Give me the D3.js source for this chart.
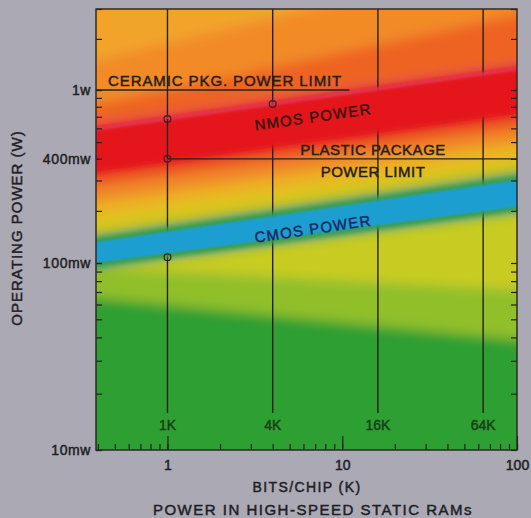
<!DOCTYPE html>
<html>
<head>
<meta charset="utf-8">
<script src="https://cdn.jsdelivr.net/npm/d3@7"></script>
<style>
body { margin: 0; background: #aaa9b4; }
svg { display: block; font-family: "Liberation Sans", Arial, sans-serif; }
svg text { stroke-width: 0.45px; }
</style>
</head>
<body>
<svg id="chart" width="531" height="518"></svg>
<script>
/* global d3 */

// data
const bitsEdge = [0.39, 100];          // left / right edge of the plot (K bits)
const powerEdge = [0.01, 3];           // bottom / top (W)
const xTickLabels = [1, 10, 100];
const yTickVals = [0.01, 0.1, 0.4, 1];
const yTickLabels = ['10mw', '100mw', '400mw', '1w'];
const densities = [1, 4, 16, 64];
const densityLabels = ['1K', '4K', '16K', '64K'];

// colour zones of the background, lower boundary at left and right edge (W)
const zoneLeft = [1.50, 0.819, 0.636, 0.595, 0.336, 0.282, 0.225, 0.182, 0.147, 0.132, 0.1, 0.094, 0.094, 0.065];
const zoneRight = [5.83, 2.77, 1.42, 1.33, 0.727, 0.611, 0.500, 0.404, 0.336, 0.302, 0.211, 0.195, 0.0717, 0.0388];
const zoneColors = ['#f2a42c', '#f28a26', '#ee6424', '#e63a52', '#e4161e', '#ec4a22', '#f28628',
	'#ecb424', '#d8c81e', '#48a23a', '#1e9ecf', '#3aa03a', '#c8cc22', '#90bf2a', '#2f9f30'];

const nmosUpper = [0.595, 1.33];
const nmosLower = [0.336, 0.727];
const cmosUpper = [0.132, 0.302];
const cmosLower = [0.1, 0.211];

const markerBits = [1, 4, 1, 1];
const markerPower = [0.68, 0.83, 0.4, 0.108];

const ceramicLimit = 1, ceramicEnd = 11;
const plasticLimit = 0.4, plasticStart = 1;

const nmosLabelAt = [6.8, 0.70];
const cmosLabelAt = [6.8, 0.158];

// layout
let svg = d3.select('#chart'),
	pLeft = 96, pTop = 9, pRight = 517, pBottom = 450,
	x = d3.scaleLog().domain(bitsEdge).range([pLeft, pRight]),
	y = d3.scaleLog().domain([powerEdge[0], 0.1, 1, powerEdge[1]]).range([pBottom, 263, 90, pTop]),
	defs = svg.append('defs'),
	ink = '#24201c';

function addBlur(id, sd) {
	defs.append('filter')
		.attr('id', id)
		.attr('filterUnits', 'userSpaceOnUse')
		.attr('x', -100).attr('y', -300).attr('width', 800).attr('height', 1100)
		.append('feGaussianBlur').attr('stdDeviation', sd);
}
addBlur('soft', 6);
addBlur('mid', 2.5);
addBlur('fine', 1);

defs.append('clipPath').attr('id', 'plot')
	.append('rect')
	.attr('x', pLeft).attr('y', pTop)
	.attr('width', pRight - pLeft).attr('height', pBottom - pTop);

// straight edge in pixel space through the two edge values, extended past the plot
function edge(pair) {
	let y0 = y(pair[0]), y1 = y(pair[1]);
	return function(px) { return y0 + (y1 - y0) * (px - pLeft) / (pRight - pLeft); };
}

let span = [pLeft - 60, pRight + 60];

function band(upper, lower) {
	return d3.area()
		.x(function(d) { return d; })
		.y0(function(d) { return lower ? lower(d) : 700; })
		.y1(function(d) { return upper ? upper(d) : -300; })(span);
}

let plot = svg.append('g').attr('clip-path', 'url(#plot)');

// background colour field
let field = plot.append('g').attr('filter', 'url(#soft)');
zoneColors.forEach(function(c, i) {
	let upper = i === 0 ? null : edge([zoneLeft[i - 1], zoneRight[i - 1]]),
		lower = i < zoneLeft.length ? edge([zoneLeft[i], zoneRight[i]]) : null;
	field.append('path').attr('d', band(upper, lower)).attr('fill', c);
});

// vertical lines for each chip density
plot.append('g').selectAll('line')
	.data(densities)
	.enter().append('line')
		.attr('x1', function(d) { return x(d); })
		.attr('x2', function(d) { return x(d); })
		.attr('y1', pTop)
		.attr('y2', pBottom - 37)
		.attr('stroke', ink)
		.attr('stroke-width', 1.4);

// NMOS band
let nU = edge(nmosUpper), nL = edge(nmosLower);
plot.append('path').attr('d', band(nU, nL)).attr('fill', '#e4161e').attr('filter', 'url(#mid)');
plot.append('path')
	.attr('d', d3.line().x(function(d) { return d; }).y(function(d) { return nU(d); })(span))
	.attr('stroke', '#e6345a').attr('stroke-width', 2.5).attr('fill', 'none').attr('filter', 'url(#fine)');

// CMOS band
let cU = edge(cmosUpper), cL = edge(cmosLower);
plot.append('path').attr('d', band(cU, cL))
	.attr('fill', 'none').attr('stroke', '#3a9e3a').attr('stroke-width', 8).attr('filter', 'url(#mid)');
plot.append('path').attr('d', band(cU, cL)).attr('fill', '#1e9fd0').attr('filter', 'url(#fine)');

// power limits
svg.append('line')
	.attr('x1', x(bitsEdge[0])).attr('x2', x(ceramicEnd))
	.attr('y1', y(ceramicLimit)).attr('y2', y(ceramicLimit))
	.attr('stroke', ink).attr('stroke-width', 1.4);
svg.append('line')
	.attr('x1', x(plasticStart)).attr('x2', x(bitsEdge[1]))
	.attr('y1', y(plasticLimit)).attr('y2', y(plasticLimit))
	.attr('stroke', ink).attr('stroke-width', 1.4);
svg.append('line')
	.attr('x1', x(markerBits[0])).attr('x2', x(markerBits[2]))
	.attr('y1', y(markerPower[0])).attr('y2', y(markerPower[2]))
	.attr('stroke', ink).attr('stroke-width', 1.4);

svg.append('g').selectAll('circle')
	.data(markerBits)
	.enter().append('circle')
		.attr('cx', function(d) { return x(d); })
		.attr('cy', function(d, i) { return y(markerPower[i]); })
		.attr('r', 3.4)
		.attr('fill', 'none')
		.attr('stroke', '#3a2420')
		.attr('stroke-width', 1.3);

// axes, ticks point inwards
function clean(g) {
	g.select('.domain').remove();
	g.selectAll('.tick line').attr('stroke', ink).attr('stroke-width', 1.2);
	g.selectAll('text').attr('fill', '#202024').attr('stroke', '#202024').style('font-size', '14px');
}

svg.append('g')
	.attr('transform', 'translate(' + pLeft + ',0)')
	.call(d3.axisLeft(y).tickValues(y.ticks()).tickSize(-6).tickFormat(''))
	.call(clean);

svg.append('g')
	.attr('transform', 'translate(' + pLeft + ',0)')
	.call(d3.axisLeft(y).tickValues(yTickVals).tickSize(-6).tickPadding(5)
		.tickFormat(function(d, i) { return yTickLabels[i]; }))
	.call(clean)
	.selectAll('text').style('letter-spacing', '0.6px');

svg.append('g')
	.attr('transform', 'translate(' + pRight + ',0)')
	.call(d3.axisRight(y).tickValues(y.ticks()).tickSize(-6).tickFormat(''))
	.call(clean);

svg.append('g')
	.attr('transform', 'translate(0,' + pBottom + ')')
	.call(d3.axisBottom(x).tickValues(x.ticks()).tickSize(-6).tickFormat(''))
	.call(clean);

svg.append('g')
	.attr('transform', 'translate(0,' + pBottom + ')')
	.call(d3.axisBottom(x).tickValues(xTickLabels).tickSize(-14).tickPadding(10)
		.tickFormat(d3.format('d')))
	.call(clean);

// frame
svg.append('rect')
	.attr('x', pLeft).attr('y', pTop)
	.attr('width', pRight - pLeft).attr('height', pBottom - pTop)
	.attr('fill', 'none').attr('stroke', '#2e2a28').attr('stroke-width', 1.5);

// density labels
svg.append('g').selectAll('text')
	.data(densityLabels)
	.enter().append('text')
		.attr('x', function(d, i) { return x(densities[i]); })
		.attr('y', pBottom - 25)
		.attr('dy', '0.35em')
		.attr('text-anchor', 'middle')
		.attr('fill', '#174016')
		.attr('stroke', '#174016')
		.style('font-size', '14px')
		.text(function(d) { return d; });

// annotations
function note(txt, px, py, opts) {
	let t = svg.append('text')
		.attr('x', px).attr('y', py)
		.attr('fill', opts.fill || ink)
		.attr('stroke', opts.fill || ink)
		.attr('text-anchor', opts.anchor || 'start')
		.style('font-size', (opts.size || 15) + 'px')
		.style('letter-spacing', (opts.spacing || 0) + 'px')
		.text(txt);
	if (opts.angle) {
		t.attr('dominant-baseline', 'central')
			.attr('transform', 'rotate(' + opts.angle + ',' + px + ',' + py + ')');
	}
	return t;
}

let slope = Math.atan2(nU(pRight) - nU(pLeft), pRight - pLeft) * 180 / Math.PI,
	cslope = Math.atan2(cU(pRight) - cU(pLeft), pRight - pLeft) * 180 / Math.PI;

note('CERAMIC PKG. POWER LIMIT', x(0.457), y(ceramicLimit) - 4, {spacing: 0.9});
note('PLASTIC PACKAGE', x(15), y(plasticLimit) - 4, {anchor: 'middle', spacing: 0.5});
note('POWER LIMIT', x(15), y(plasticLimit) + 18, {anchor: 'middle', spacing: 0.5});
note('NMOS POWER', x(nmosLabelAt[0]), y(nmosLabelAt[1]), {anchor: 'middle', spacing: 1.2, angle: slope, fill: '#3a1410'});
note('CMOS POWER', x(cmosLabelAt[0]), y(cmosLabelAt[1]), {anchor: 'middle', spacing: 1.2, angle: cslope, fill: '#1a2860'});

// titles
note('BITS/CHIP (K)', 307, 492, {anchor: 'middle', size: 14, spacing: 1.4, fill: '#202024'});
note('POWER IN HIGH-SPEED STATIC RAMs', 313, 515, {anchor: 'middle', size: 15, spacing: 1.5, fill: '#202024'});
svg.append('text')
	.attr('transform', 'translate(22,228) rotate(-90)')
	.attr('text-anchor', 'middle')
	.attr('fill', '#202024')
	.attr('stroke', '#202024')
	.style('font-size', '15px')
	.style('letter-spacing', '1px')
	.text('OPERATING POWER (W)');
</script>
</body>
</html>
